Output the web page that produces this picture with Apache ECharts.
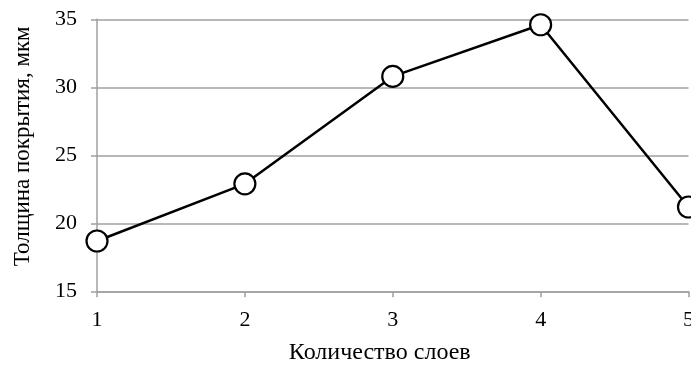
<!DOCTYPE html>
<html><head><meta charset="utf-8">
<script src="https://cdn.jsdelivr.net/npm/echarts@6/dist/echarts.min.js"></script>
<style>html,body{margin:0;padding:0;background:#fff}#c{width:691px;height:365px}</style>
</head><body><div id="c"></div>
<script>
const layers = [1, 2, 3, 4, 5];
const thickness = [18.7, 22.9, 30.8, 34.6, 21.2];
const yTicks = [15, 20, 25, 30, 35];
const xTitle = 'Количество слоев';
const yTitle = 'Толщина покрытия, мкм';

const font = "'Liberation Serif','Times New Roman',serif";
const grey = '#a0a0a0';
const chart = echarts.init(document.getElementById('c'), null, {renderer: 'canvas'});
chart.setOption({
  animation: false,
  backgroundColor: '#fff',
  grid: {left: 97, right: 2.5, top: 19.3, bottom: 73.7, containLabel: false, outerBoundsMode: 'none'},
  xAxis: {
    type: 'value', min: 1, max: 5, interval: 1,
    name: xTitle, nameLocation: 'middle', nameGap: 49,
    nameTextStyle: {fontFamily: font, fontSize: 24, color: '#000', padding: [0, 26, 0, 0]},
    axisLine: {show: true, lineStyle: {color: grey, width: 1.5}},
    axisTick: {show: true, length: 6, lineStyle: {color: grey, width: 1.5}},
    axisLabel: {fontFamily: font, fontSize: 22, color: '#000', margin: 18},
    splitLine: {show: false}
  },
  yAxis: {
    type: 'value', min: yTicks[0], max: yTicks[yTicks.length - 1], interval: 5,
    name: yTitle, nameLocation: 'middle', nameGap: 63, nameRotate: 90,
    nameTextStyle: {fontFamily: font, fontSize: 23, color: '#000', padding: [0, 0, 0, 18]},
    axisLine: {show: true, lineStyle: {color: grey, width: 1.5}},
    axisTick: {show: true, length: 6, lineStyle: {color: grey, width: 1.5}},
    axisLabel: {fontFamily: font, fontSize: 22, color: '#000', margin: 20},
    splitLine: {show: true, lineStyle: {color: grey, width: 1.5}}
  },
  series: [{
    type: 'line',
    data: layers.map((x, i) => [x, thickness[i]]),
    symbol: 'circle', symbolSize: 21,
    showAllSymbol: true,
    clip: false,
    lineStyle: {color: '#000', width: 2.5},
    itemStyle: {color: '#fff', borderColor: '#000', borderWidth: 2.2}
  }]
});
</script></body></html>
